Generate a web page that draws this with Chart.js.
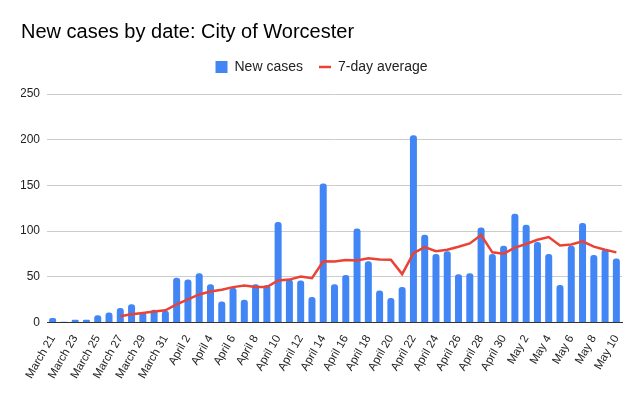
<!DOCTYPE html>
<html>
<head>
<meta charset="utf-8">
<script src="https://cdn.jsdelivr.net/npm/chart.js@4"></script>
<style>
  html, body { margin: 0; padding: 0; background: #fff; }
  #wrap { width: 641px; height: 396px; position: relative; }
</style>
</head>
<body>
<div id="wrap"><canvas id="chart-cases"></canvas></div>
<script>
const dates = [
  'March 21', 'March 22', 'March 23', 'March 24', 'March 25', 'March 26', 'March 27', 'March 28', 'March 29', 'March 30', 'March 31',
  'April 1', 'April 2', 'April 3', 'April 4', 'April 5', 'April 6', 'April 7', 'April 8', 'April 9', 'April 10',
  'April 11', 'April 12', 'April 13', 'April 14', 'April 15', 'April 16', 'April 17', 'April 18', 'April 19', 'April 20',
  'April 21', 'April 22', 'April 23', 'April 24', 'April 25', 'April 26', 'April 27', 'April 28', 'April 29', 'April 30',
  'May 1', 'May 2', 'May 3', 'May 4', 'May 5', 'May 6', 'May 7', 'May 8', 'May 9', 'May 10'
];
const newCases = [
  5, 1, 3, 3, 8, 11, 16, 20, 11, 14, 13,
  49, 47, 54, 42, 23, 38, 25, 42, 41, 110,
  47, 46, 28, 152, 42, 52, 103, 67, 35, 27,
  39, 205, 96, 75, 78, 53, 54, 104, 75, 84,
  119, 107, 88, 75, 41, 84, 109, 74, 80, 70
];
const avg7 = [
  null, null, null, null, null, null, 7, 9, 10.5, 12, 13.4,
  20, 25.5, 30.8, 34, 36, 38.8, 40.6, 39, 38.8, 46,
  47, 50.4, 48.5, 67, 66.7, 68.5, 67.8, 70.3, 69, 68.8,
  53, 76, 82.6, 78, 79.7, 83, 86.6, 95.7, 76.8, 75.4,
  82, 86, 90.6, 93.5, 84.4, 85.5, 88.8, 83, 79.7, 76.8
];
const yTicks = [0, 50, 100, 150, 200, 250];

const BLUE = '#4285F4';
const RED = '#EA4335';
const FONT = '"Liberation Sans", Arial, sans-serif';

// extra room under the legend, chart.js has no option for it
const legendGap = {
  id: 'legendGap',
  beforeLayout(chart) {
    const lg = chart.legend;
    if (!lg || lg._gapPatched) return;
    const fit = lg.fit;
    lg.fit = function () { fit.call(this); this.height += 10; };
    lg._gapPatched = true;
  }
};

new Chart(document.getElementById('chart-cases'), {
  data: {
    labels: dates,
    datasets: [
      {
        type: 'line',
        label: '7-day average',
        data: avg7,
        borderColor: RED,
        backgroundColor: RED,
        borderWidth: 2.5,
        pointRadius: 0,
        pointStyle: 'line',
        tension: 0,
        order: 0
      },
      {
        type: 'bar',
        label: 'New cases',
        data: newCases,
        backgroundColor: BLUE,
        borderRadius: { topLeft: 3, topRight: 3 },
        borderSkipped: 'bottom',
        barPercentage: 0.62,
        categoryPercentage: 1,
        pointStyle: 'rect',
        order: 1
      }
    ]
  },
  options: {
    responsive: true,
    maintainAspectRatio: false,
    animation: false,
    layout: { padding: { left: 21, right: 19, top: 14, bottom: 13 } },
    plugins: {
      title: {
        display: true,
        text: 'New cases by date: City of Worcester',
        align: 'start',
        color: '#000',
        font: { family: FONT, size: 20, weight: 'normal' },
        padding: { top: 6, bottom: 0 }
      },
      legend: {
        position: 'top',
        reverse: true,
        labels: {
          color: '#222',
          font: { family: FONT, size: 14 },
          usePointStyle: true,
          pointStyleWidth: 12,
          boxHeight: 12,
          padding: 16
        }
      },
      tooltip: { enabled: false }
    },
    scales: {
      x: {
        grid: { display: false },
        border: { display: true, color: '#333', width: 1 },
        ticks: {
          autoSkip: false,
          maxRotation: 60,
          minRotation: 60,
          color: '#222',
          font: { family: FONT, size: 11.5 },
          padding: 2,
          callback: (v, i) => (i % 2 === 0 ? dates[i] : '')
        }
      },
      y: {
        min: 0,
        max: 250,
        afterBuildTicks: axis => { axis.ticks = yTicks.map(v => ({ value: v })); },
        afterFit: axis => { axis.width = 26; },
        grid: {
          color: ctx => (ctx.tick && ctx.tick.value === 0 ? '#333' : '#ccc'),
          drawTicks: false
        },
        border: { display: false },
        ticks: {
          color: '#222',
          font: { family: FONT, size: 12 },
          padding: 7
        }
      }
    }
  },
  plugins: [legendGap]
});
</script>
</body>
</html>
